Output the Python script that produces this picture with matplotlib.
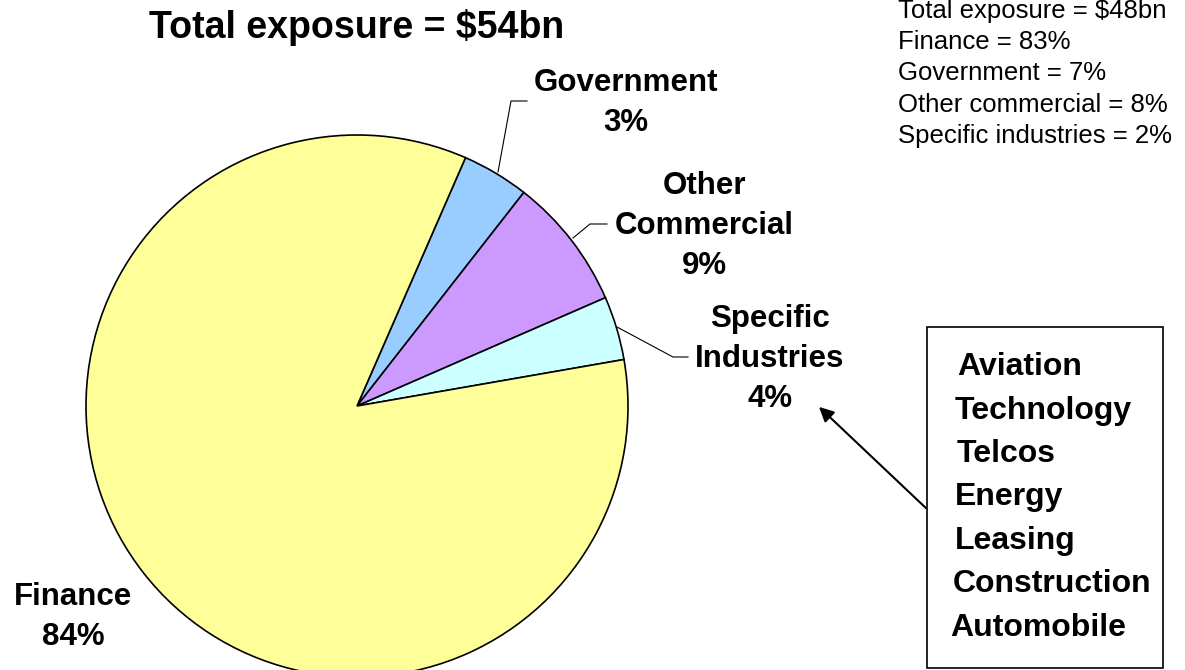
import matplotlib.pyplot as plt

plt.rcParams['font.family'] = ['Liberation Sans', 'DejaVu Sans']

# data
sectors = ['Government', 'Other\nCommercial', 'Specific\nIndustries', 'Finance']
shares = [4.0, 7.9, 3.8, 84.3]          # slice sizes as drawn
pct_labels = ['3%', '9%', '4%', '84%']  # percentages as printed
colors = ['#99CCFF', '#CC99FF', '#CCFFFF', '#FFFF99']
title = 'Total exposure = $54bn'
prior_lines = ['Total exposure = $48bn', 'Finance = 83%', 'Government = 7%',
               'Other commercial = 8%', 'Specific industries = 2%']
industries = ['Aviation', 'Technology', 'Telcos', 'Energy', 'Leasing',
              'Construction', 'Automobile']

W, H = 1185, 670
fig = plt.figure(figsize=(W / 100, H / 100), dpi=100)
ax = fig.add_axes([0, 0, 1, 1])


def Y(y):
    # pixel row (from top) -> data y
    return H - y


ax.pie(shares, colors=colors, startangle=66.4, counterclock=False,
       center=(357, Y(406)), radius=271, frame=True,
       wedgeprops=dict(edgecolor='black', linewidth=1.2))
ax.set_xlim(0, W)
ax.set_ylim(0, H)
ax.axis('off')

# labels
label_pos = [(626, 103), (704, 226), (770, 359), (73, 617)]
for name, pct, (x, y) in zip(sectors, pct_labels, label_pos):
    ax.text(x, Y(y), f'{name}\n{pct}', ha='center', va='center',
            fontsize=22.5, fontweight='bold', linespacing=1.44)

# leader lines
leaders = [[(498, 172), (511, 101), (527, 101)],
           [(573, 238), (590, 224), (607, 224)],
           [(617, 327), (673, 357), (688, 357)]]
for pts in leaders:
    ax.plot([p[0] for p in pts], [Y(p[1]) for p in pts], color='black', lw=0.8)

ax.text(357, Y(27), title, ha='center', va='center',
        fontsize=27, fontweight='bold')

ax.text(898, Y(-1), '\n'.join(prior_lines), ha='left', va='top',
        fontsize=18.5, linespacing=1.38)

# box of industries
ax.add_patch(plt.Rectangle((927, Y(668)), 1163 - 927, 668 - 327,
                           fill=False, edgecolor='black', lw=1.2))
x_off = [957, 955, 957, 955, 955, 953, 950]
for i, name in enumerate(industries):
    ax.text(x_off[i], Y(367 + i * 43.5), name, ha='left', va='center',
            fontsize=23, fontweight='bold')

ax.annotate('', xy=(817, Y(405)), xytext=(928, Y(510)),
            arrowprops=dict(arrowstyle='-|>', color='black', lw=1.5,
                            mutation_scale=22))

fig.savefig('out.png', dpi=100)
